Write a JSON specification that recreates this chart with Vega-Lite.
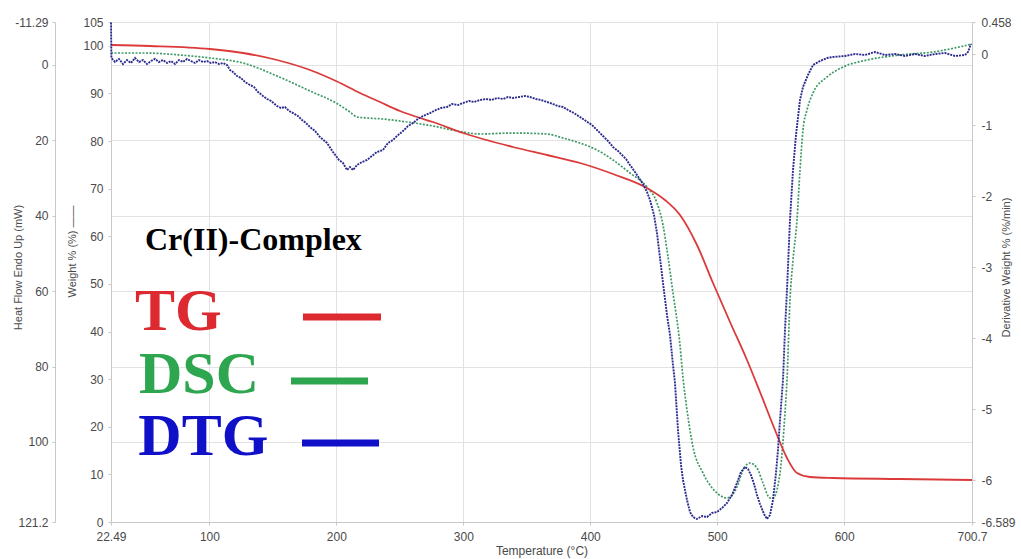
{
  "$schema": "https://vega.github.io/schema/vega-lite/v6.json",
  "width": 861,
  "height": 500,
  "autosize": {"type": "none"},
  "padding": {"left": 111, "top": 22, "right": 49, "bottom": 37},
  "background": "white",
  "config": {
    "view": {"stroke": null},
    "axis": {
      "labelFont": "Liberation Sans",
      "titleFont": "Liberation Sans",
      "labelFontSize": 12,
      "titleFontSize": 11,
      "labelColor": "#4a4a4a",
      "titleColor": "#4a4a4a",
      "titleFontWeight": "normal",
      "domainColor": "#c8c8c8",
      "tickColor": "#c8c8c8",
      "gridColor": "#e2e2e2",
      "tickSize": 4
    }
  },
  "encoding": {
    "x": {"field": "T", "type": "quantitative",
      "scale": {"domain": [22.49, 700.7], "nice": false, "zero": false},
      "axis": {"values": [22.49, 100, 200, 300, 400, 500, 600, 700.7], "labelExpr": "'' + datum.value",
        "grid": true, "labelFlush": false, "labelPadding": 6, "tickSize": 3,
        "title": "Temperature (°C)", "titleFontSize": 12, "titleY": 28, "titleBaseline": "middle"}}
  },
  "resolve": {"scale": {"y": "independent"}},
  "layer": [
    {
      "data": {"values": [
        {"T":22.49,"h":-3.08},{"T":47.7,"h":-3.08},{"T":76.84,"h":-2.55},{"T":100.47,"h":-1.75},{"T":126.47,"h":-0.43},
        {"T":153.25,"h":3.02},{"T":179.24,"h":6.99},{"T":199.73,"h":10.18},{"T":210.75,"h":12.56},{"T":216.27,"h":13.89},
        {"T":224.14,"h":14.15},{"T":236.74,"h":14.42},{"T":250.13,"h":14.95},{"T":276.12,"h":16.27},{"T":299.75,"h":17.86},
        {"T":313.14,"h":18.39},{"T":339.13,"h":18.13},{"T":365.91,"h":18.39},{"T":378.53,"h":19.45},{"T":391.92,"h":20.78},
        {"T":405.31,"h":22.63},{"T":417.92,"h":25.28},{"T":431.31,"h":28.73},{"T":444.7,"h":32.44},{"T":452.57,"h":36.68},
        {"T":457.3,"h":42.5},{"T":460.45,"h":49.13},{"T":465.17,"h":60.52},{"T":470.69,"h":74.3},{"T":473.05,"h":83.0},
        {"T":476.2,"h":91.5},{"T":480.93,"h":101.33},{"T":488.81,"h":108.22},{"T":499.84,"h":113.52},{"T":507.71,"h":114.85},
        {"T":515.59,"h":111.93},{"T":520.31,"h":107.43},{"T":525.83,"h":105.57},{"T":531.34,"h":106.9},{"T":536.06,"h":110.87},
        {"T":541.58,"h":114.85},{"T":543.94,"h":114.85},{"T":549.45,"h":108.22},{"T":553.39,"h":92.32},{"T":554.97,"h":83.58},
        {"T":557.33,"h":62.38},{"T":559.7,"h":51.78},{"T":562.85,"h":41.18},{"T":565.21,"h":27.93},{"T":567.57,"h":17.33},
        {"T":570.72,"h":12.03},{"T":575.45,"h":7.52},{"T":586.47,"h":3.28},{"T":599.07,"h":0.64},{"T":617.98,"h":-1.22},
        {"T":643.97,"h":-2.55},{"T":669.97,"h":-3.34},{"T":700.69,"h":-5.46}
      ]},
      "mark": {"type": "line", "color": "#3f9a66", "strokeWidth": 1.7, "strokeDash": [2, 1.5], "interpolate": "monotone"},
      "encoding": {
        "y": {"field": "h", "type": "quantitative",
          "scale": {"domain": [-11.29, 121.2], "reverse": true, "nice": false, "zero": false},
          "axis": {"orient": "left", "offset": 56, "values": [-11.29, 0, 20, 40, 60, 80, 100, 121.2],
            "labelExpr": "'' + datum.value", "grid": true, "labelPadding": 4, "tickSize": 3,
            "title": "Heat Flow Endo Up (mW)", "titleX": -37, "titleY": 245, "titleAngle": -90,
            "titleBaseline": "middle", "titleAlign": "center"}}
      }
    },
    {
      "encoding": {
        "y": {"field": "w", "type": "quantitative",
          "scale": {"domain": [0, 105], "nice": false, "zero": false},
          "axis": {"orient": "left", "offset": 0, "values": [0, 10, 20, 30, 40, 50, 60, 70, 80, 90, 100, 105],
            "grid": false, "labelPadding": 5, "tickSize": 3,
            "title": "Weight % (%) ——", "titleX": -39, "titleY": 229, "titleAngle": -90,
            "titleBaseline": "middle", "titleAlign": "center"}}
      },
      "layer": [
        {
          "data": {"values": [
            {"T":22.49,"w":100.17},{"T":53.21,"w":99.96},{"T":100.47,"w":99.33},{"T":126.47,"w":98.49},{"T":153.25,"w":97.02},
            {"T":179.24,"w":94.92},{"T":199.73,"w":92.61},{"T":218.63,"w":90.09},{"T":234.38,"w":88.2},{"T":250.13,"w":86.31},
            {"T":263.52,"w":85.05},{"T":276.12,"w":84.0},{"T":299.75,"w":81.69},{"T":339.13,"w":78.75},{"T":365.91,"w":77.07},
            {"T":391.92,"w":75.39},{"T":417.92,"w":73.08},{"T":444.7,"w":70.14},{"T":458.87,"w":67.62},{"T":470.69,"w":64.47},
            {"T":484.08,"w":58.17},{"T":496.69,"w":50.19},{"T":510.07,"w":42.0},{"T":523.46,"w":34.02},{"T":533.7,"w":27.3},
            {"T":545.52,"w":19.32},{"T":554.97,"w":13.44},{"T":562.85,"w":10.29},{"T":573.09,"w":9.45},{"T":591.2,"w":9.24},
            {"T":643.97,"w":9.03},{"T":700.69,"w":8.82}
          ]},
          "mark": {"type": "line", "color": "#dc3a3a", "strokeWidth": 1.8, "interpolate": "monotone"}
        },
        {
          "data": {"values": [{"T": 49.27, "w": 57.12, "label": "Cr(II)-Complex"}]},
          "mark": {"type": "text", "align": "left", "baseline": "alphabetic", "font": "Liberation Serif", "fontWeight": "bold", "fontSize": 32, "color": "black"},
          "encoding": {"text": {"field": "label"}}
        },
        {
          "data": {"values": [
            {"T": 41.4, "w": 40.32, "series": "TG"},
            {"T": 44.5, "w": 27.09, "series": "DSC"},
            {"T": 44.0, "w": 14.07, "series": "DTG"}
          ]},
          "mark": {"type": "text", "align": "left", "baseline": "alphabetic", "font": "Liberation Serif", "fontWeight": "bold", "fontSize": 60},
          "encoding": {
            "text": {"field": "series"},
            "color": {"field": "series", "type": "nominal", "scale": {"domain": ["TG", "DSC", "DTG"], "range": ["#dd2a30", "#2ea54f", "#1010c8"]}, "legend": null}
          }
        },
        {
          "data": {"values": [
            {"T": 173.73, "T2": 235.17, "w": 43.05, "series": "TG"},
            {"T": 164.28, "T2": 224.93, "w": 29.61, "series": "DSC"},
            {"T": 172.94, "T2": 233.6, "w": 16.59, "series": "DTG"}
          ]},
          "mark": {"type": "rule", "strokeWidth": 7, "strokeCap": "butt"},
          "encoding": {
            "x2": {"field": "T2"},
            "color": {"field": "series", "type": "nominal", "scale": {"domain": ["TG", "DSC", "DTG"], "range": ["#dd2a30", "#2ea54f", "#1010c8"]}, "legend": null}
          }
        }
      ]
    },
    {
      "data": {"values": [
        {"T":22.49,"d":0.45},{"T":22.8,"d":-0.049},{"T":25.64,"d":-0.106},{"T":28.79,"d":-0.063},{"T":31.94,"d":-0.134},
        {"T":35.09,"d":-0.078},{"T":38.24,"d":-0.12},{"T":41.4,"d":-0.049},{"T":44.55,"d":-0.106},{"T":47.7,"d":-0.078},
        {"T":50.85,"d":-0.134},{"T":54.0,"d":-0.092},{"T":57.15,"d":-0.063},{"T":60.3,"d":-0.106},{"T":63.45,"d":-0.078},
        {"T":66.6,"d":-0.12},{"T":69.75,"d":-0.092},{"T":72.9,"d":-0.134},{"T":76.05,"d":-0.078},{"T":79.21,"d":-0.106},
        {"T":82.36,"d":-0.063},{"T":85.51,"d":-0.092},{"T":88.66,"d":-0.12},{"T":91.81,"d":-0.078},{"T":94.96,"d":-0.106},
        {"T":98.11,"d":-0.092},{"T":101.26,"d":-0.12},{"T":104.41,"d":-0.106},{"T":107.56,"d":-0.134},{"T":110.71,"d":-0.12},
        {"T":113.86,"d":-0.148},{"T":116.23,"d":-0.219},{"T":118.59,"d":-0.247},{"T":121.74,"d":-0.303},{"T":124.89,"d":-0.331},
        {"T":128.04,"d":-0.388},{"T":131.98,"d":-0.43},{"T":135.13,"d":-0.458},{"T":138.28,"d":-0.529},{"T":142.23,"d":-0.585},
        {"T":145.38,"d":-0.627},{"T":148.52,"d":-0.655},{"T":153.25,"d":-0.726},{"T":156.4,"d":-0.754},{"T":159.55,"d":-0.74},
        {"T":162.7,"d":-0.796},{"T":165.85,"d":-0.825},{"T":169.79,"d":-0.867},{"T":172.94,"d":-0.923},{"T":176.09,"d":-0.966},
        {"T":179.24,"d":-1.022},{"T":183.18,"d":-1.078},{"T":187.12,"d":-1.163},{"T":192.64,"d":-1.247},{"T":197.36,"d":-1.374},
        {"T":202.09,"d":-1.487},{"T":205.24,"d":-1.529},{"T":208.39,"d":-1.628},{"T":210.75,"d":-1.586},{"T":213.12,"d":-1.628},
        {"T":216.27,"d":-1.557},{"T":220.21,"d":-1.515},{"T":224.14,"d":-1.487},{"T":228.08,"d":-1.43},{"T":232.02,"d":-1.374},
        {"T":236.74,"d":-1.346},{"T":240.68,"d":-1.247},{"T":244.62,"d":-1.205},{"T":247.77,"d":-1.149},{"T":252.5,"d":-1.078},
        {"T":256.43,"d":-1.008},{"T":260.37,"d":-0.966},{"T":264.31,"d":-0.909},{"T":268.25,"d":-0.867},{"T":273.76,"d":-0.825},
        {"T":278.49,"d":-0.782},{"T":282.43,"d":-0.754},{"T":287.15,"d":-0.74},{"T":291.09,"d":-0.698},{"T":295.82,"d":-0.712},
        {"T":299.75,"d":-0.684},{"T":304.48,"d":-0.655},{"T":308.42,"d":-0.669},{"T":313.14,"d":-0.641},{"T":317.87,"d":-0.627},
        {"T":322.59,"d":-0.641},{"T":326.53,"d":-0.613},{"T":331.26,"d":-0.627},{"T":335.2,"d":-0.599},{"T":339.13,"d":-0.613},
        {"T":343.86,"d":-0.599},{"T":348.58,"d":-0.585},{"T":352.52,"d":-0.599},{"T":357.25,"d":-0.627},{"T":361.19,"d":-0.641},
        {"T":365.91,"d":-0.669},{"T":370.64,"d":-0.698},{"T":374.58,"d":-0.726},{"T":378.53,"d":-0.74},{"T":382.46,"d":-0.782},
        {"T":387.19,"d":-0.825},{"T":391.92,"d":-0.881},{"T":396.64,"d":-0.937},{"T":401.37,"d":-0.994},{"T":405.31,"d":-1.064},
        {"T":410.04,"d":-1.149},{"T":413.97,"d":-1.219},{"T":417.92,"d":-1.304},{"T":421.86,"d":-1.36},{"T":425.0,"d":-1.416},
        {"T":428.16,"d":-1.473},{"T":431.31,"d":-1.557},{"T":435.25,"d":-1.656},{"T":438.4,"d":-1.741},{"T":441.55,"d":-1.825},
        {"T":444.7,"d":-1.938},{"T":447.06,"d":-2.051},{"T":450.21,"d":-2.262},{"T":452.57,"d":-2.516},{"T":454.94,"d":-2.868},
        {"T":457.3,"d":-3.22},{"T":460.45,"d":-3.671},{"T":462.81,"d":-3.953},{"T":465.17,"d":-4.376},{"T":466.75,"d":-4.63},
        {"T":469.11,"d":-5.292},{"T":471.47,"d":-5.786},{"T":473.05,"d":-5.997},{"T":476.2,"d":-6.279},{"T":478.57,"d":-6.448},
        {"T":480.93,"d":-6.519},{"T":484.08,"d":-6.547},{"T":488.02,"d":-6.505},{"T":491.96,"d":-6.519},{"T":495.9,"d":-6.462},
        {"T":499.84,"d":-6.448},{"T":503.78,"d":-6.392},{"T":507.71,"d":-6.321},{"T":511.65,"d":-6.209},{"T":515.59,"d":-6.039},
        {"T":518.74,"d":-5.884},{"T":521.89,"d":-5.814},{"T":524.25,"d":-5.842},{"T":526.61,"d":-5.927},{"T":528.98,"d":-6.053},
        {"T":531.34,"d":-6.209},{"T":533.7,"d":-6.335},{"T":536.85,"d":-6.476},{"T":539.21,"d":-6.547},{"T":541.58,"d":-6.49},
        {"T":543.94,"d":-6.279},{"T":546.3,"d":-5.898},{"T":547.88,"d":-5.574},{"T":549.45,"d":-5.151},{"T":551.82,"d":-4.588},
        {"T":553.39,"d":-3.883},{"T":554.97,"d":-3.319},{"T":557.33,"d":-2.333},{"T":559.7,"d":-1.628},{"T":562.06,"d":-1.135},
        {"T":565.21,"d":-0.641},{"T":567.57,"d":-0.458},{"T":571.51,"d":-0.289},{"T":575.45,"d":-0.148},{"T":580.96,"d":-0.092},
        {"T":586.47,"d":-0.049},{"T":591.2,"d":-0.035},{"T":600.65,"d":-0.021},{"T":608.53,"d":0.007},{"T":616.4,"d":-0.007},
        {"T":624.28,"d":0.035},{"T":632.16,"d":-0.007},{"T":640.03,"d":0.007},{"T":647.91,"d":-0.021},{"T":655.79,"d":0.007},
        {"T":663.67,"d":-0.021},{"T":671.55,"d":0.007},{"T":679.43,"d":0.021},{"T":687.3,"d":-0.021},{"T":695.18,"d":-0.007},
        {"T":697.54,"d":0.035},{"T":699.9,"d":0.148}
      ]},
      "mark": {"type": "line", "color": "#2b2b8e", "strokeWidth": 1.9, "strokeDash": [2, 1]},
      "encoding": {
        "y": {"field": "d", "type": "quantitative",
          "scale": {"domain": [-6.589, 0.458], "nice": false, "zero": false},
          "axis": {"orient": "right", "values": [0.458, 0, -1, -2, -3, -4, -5, -6, -6.589],
            "labelExpr": "'' + datum.value", "grid": false, "labelPadding": 6, "tickSize": 3,
            "title": "Derivative Weight % (%/min)", "titleX": 34, "titleY": 245, "titleAngle": -90,
            "titleBaseline": "middle", "titleAlign": "center"}}
      }
    }
  ]
}
